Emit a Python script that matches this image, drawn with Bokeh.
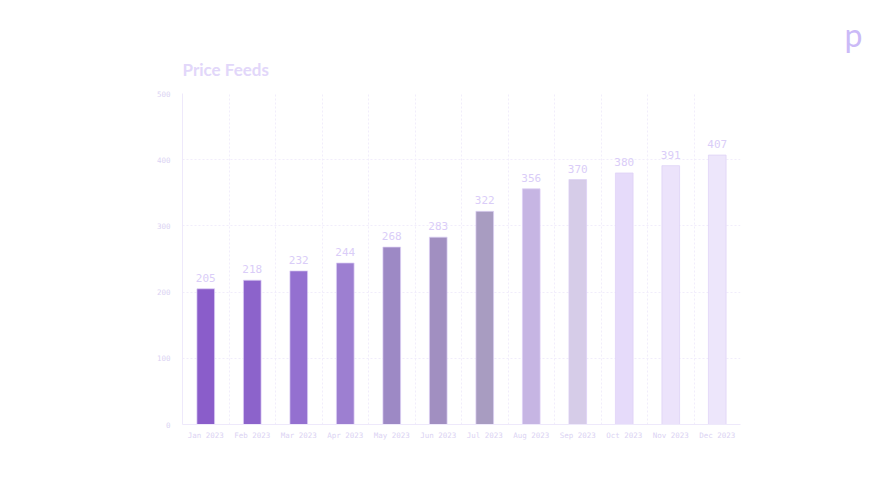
from bokeh.plotting import figure
from bokeh.models import ColumnDataSource, FixedTicker, Title
from bokeh.embed import file_html
from bokeh.resources import INLINE
from bokeh.core.properties import value

months = ["Jan 2023", "Feb 2023", "Mar 2023", "Apr 2023", "May 2023", "Jun 2023",
          "Jul 2023", "Aug 2023", "Sep 2023", "Oct 2023", "Nov 2023", "Dec 2023"]
feeds = [205, 218, 232, 244, 268, 283, 322, 356, 370, 380, 391, 407]
colors = ["#8a5dca", "#8c63cb", "#9470d0", "#9d7fd1", "#9d89c5", "#a18fc1",
          "#a89cc1", "#c6b5e3", "#d6cce8", "#e6dbfa", "#ece3fb", "#ede6fb"]
y_ticks = [0, 100, 200, 300, 400, 500]

idx = list(range(len(months)))
src = ColumnDataSource(dict(x=idx, top=feeds, color=colors,
                            label=[str(v) for v in feeds]))

p = figure(width=872, height=484, output_backend="svg", toolbar_location=None,
           x_range=(-0.5, len(months) - 0.5), y_range=(0, 500),
           min_border_left=182, min_border_right=132, min_border_top=93,
           min_border_bottom=60)
p.outline_line_color = None
p.background_fill_color = "white"
p.border_fill_color = "white"

p.vbar(x="x", top="top", width=0.38, bottom=0, source=src, fill_color="color",
       line_color="#ddd0f6", line_width=1, line_alpha=0.7)
p.text(x="x", y="top", text="label", source=src, text_align="center",
       text_baseline="bottom", y_offset=-7, text_font=value("DejaVu Sans Mono"),
       text_font_size="11px", text_color="#dacdf8")

# logo (outermost title)
p.title.text = "p"
p.title.align = "right"
p.title.offset = -122
p.title.text_font = "Lato"
p.title.text_font_size = "32px"
p.title.text_font_style = "normal"
p.title.text_color = "#cbbaf7"
p.title.standoff = -20

main_title = Title(text="Price Feeds", align="left", offset=0, text_font="Lato",
                   text_font_size="17px", text_font_style="bold",
                   text_color="#e2d7fa", standoff=27)
p.add_layout(main_title, "above")

for ax in (p.xaxis, p.yaxis):
    ax.axis_line_color = "#eee9fb"
    ax.major_tick_line_color = None
    ax.minor_tick_line_color = None
    ax.major_label_text_font = "DejaVu Sans Mono"
    ax.major_label_text_color = "#dbd3f3"

p.xaxis.ticker = FixedTicker(ticks=idx)
p.xaxis.major_label_overrides = {i: m for i, m in enumerate(months)}
p.xaxis.major_label_text_font_size = "7.5px"
p.xaxis.major_label_standoff = 0
p.yaxis.ticker = FixedTicker(ticks=y_ticks)
p.yaxis.major_label_text_font_size = "7.5px"
p.yaxis.major_label_standoff = 6

p.xgrid.ticker = FixedTicker(ticks=[i + 0.5 for i in idx])
for g in (p.xgrid, p.ygrid):
    g.grid_line_color = "#f1edfb"
    g.grid_line_dash = "2 2"

open("out.html", "w").write(file_html(p, INLINE))
